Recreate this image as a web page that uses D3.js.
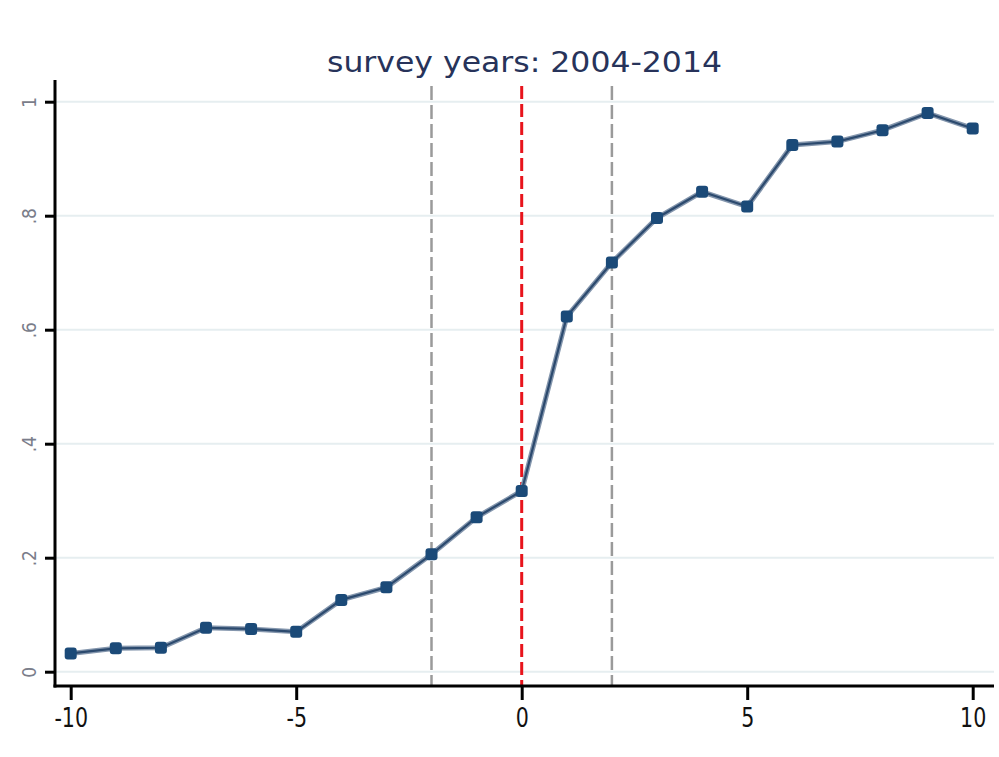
<!DOCTYPE html>
<html>
<head>
<meta charset="utf-8">
<script src="https://cdn.jsdelivr.net/npm/d3@7"></script>
<style>
  html, body { margin: 0; padding: 0; background: #ffffff; }
  svg { display: block; }
</style>
</head>
<body>
<svg id="chart" width="999" height="757"></svg>
<script>
// Event time relative to treatment, and the estimated share at each step
const eventTime = [-10, -9, -8, -7, -6, -5, -4, -3, -2, -1, 0, 1, 2, 3, 4, 5, 6, 7, 8, 9, 10];
const share = [0.032, 0.041, 0.042, 0.077, 0.075, 0.070, 0.126, 0.148, 0.206, 0.271, 0.317,
               0.623, 0.718, 0.796, 0.842, 0.816, 0.924, 0.930, 0.950, 0.980, 0.953];
const xTicks = [-10, -5, 0, 5, 10];
const yTicks = [0, 0.2, 0.4, 0.6, 0.8, 1];
const yTickLabels = ["0", ".2", ".4", ".6", ".8", "1"];
const windowLines = [-2, 2];
const eventLine = 0;
const titleText = "survey years: 2004-2014";

const svg = d3.select("#chart");
const plot = { left: 55, right: 994, top: 86, bottom: 686 };

const x = d3.scaleLinear().domain([-10, 10]).range([70.7, 972.7]);
const y = d3.scaleLinear().domain([0, 1]).range([671.7, 101.7]);

// horizontal grid
svg.append("g")
  .selectAll("line")
  .data(yTicks)
  .join("line")
  .attr("x1", plot.left).attr("x2", plot.right)
  .attr("y1", d => y(d)).attr("y2", d => y(d))
  .attr("stroke", "#e6eef0").attr("stroke-width", 2);

// reference lines: window around the event and the event itself
svg.append("g")
  .selectAll("line")
  .data(windowLines)
  .join("line")
  .attr("x1", d => x(d)).attr("x2", d => x(d))
  .attr("y1", plot.top).attr("y2", plot.bottom)
  .attr("stroke", "#9a9a9a").attr("stroke-width", 2.5)
  .attr("stroke-dasharray", "14,5");

svg.append("line")
  .attr("x1", x(eventLine)).attr("x2", x(eventLine))
  .attr("y1", plot.top).attr("y2", plot.bottom)
  .attr("stroke", "#e8141c").attr("stroke-width", 3)
  .attr("stroke-dasharray", "13,5");

// series line and markers
const pts = eventTime.map((t, i) => [t, share[i]]);
svg.append("path")
  .datum(pts)
  .attr("fill", "none")
  .attr("stroke", "#8496ad")
  .attr("stroke-width", 5)
  .attr("d", d3.line().x(d => x(d[0])).y(d => y(d[1])));
svg.append("path")
  .datum(pts)
  .attr("fill", "none")
  .attr("stroke", "#2c4a6e")
  .attr("stroke-width", 2.2)
  .attr("d", d3.line().x(d => x(d[0])).y(d => y(d[1])));

svg.append("g")
  .selectAll("rect")
  .data(pts)
  .join("rect")
  .attr("x", d => x(d[0]) - 6).attr("y", d => y(d[1]) - 6)
  .attr("width", 12).attr("height", 12)
  .attr("rx", 3)
  .attr("fill", "#1b4a78");

// axes
const condensed = "'DejaVu Sans Condensed', 'Liberation Sans Narrow', 'DejaVu Sans', sans-serif";
const xAxis = d3.axisBottom(x).tickValues(xTicks).tickSize(14).tickFormat(d3.format("d"));
const gx = svg.append("g").attr("transform", `translate(0,${plot.bottom})`).call(xAxis);
gx.select(".domain").remove();
gx.selectAll(".tick line").attr("stroke", "#000").attr("stroke-width", 3);
gx.selectAll(".tick text")
  .attr("fill", "#111")
  .attr("dy", 0)
  .attr("y", 41)
  .attr("transform", "scale(0.88,1)")
  .attr("font-family", condensed)
  .attr("font-size", 26)
  .text(d => d < 0 ? "-" + Math.abs(d) : String(d));

const yAxis = d3.axisLeft(y).tickValues(yTicks).tickSize(10).tickFormat((d, i) => yTickLabels[i]);
const gy = svg.append("g").attr("transform", `translate(${plot.left},0)`).call(yAxis);
gy.select(".domain").remove();
gy.selectAll(".tick line").attr("stroke", "#000").attr("stroke-width", 3);
gy.selectAll(".tick text")
  .attr("x", 0).attr("dy", 0)
  .attr("transform", "translate(-19,0) rotate(-90)")
  .attr("text-anchor", "middle")
  .attr("fill", "#7a7d8a")
  .attr("font-family", condensed)
  .attr("font-size", 19);

// frame lines (left and bottom)
svg.append("line")
  .attr("x1", plot.left).attr("x2", plot.left)
  .attr("y1", 80).attr("y2", plot.bottom + 1.5)
  .attr("stroke", "#000").attr("stroke-width", 3);
svg.append("line")
  .attr("x1", plot.left - 1.5).attr("x2", plot.right)
  .attr("y1", plot.bottom).attr("y2", plot.bottom)
  .attr("stroke", "#000").attr("stroke-width", 3);

// title
svg.append("text")
  .attr("x", 327).attr("y", 72)
  .attr("textLength", 395)
  .attr("lengthAdjust", "spacingAndGlyphs")
  .attr("font-family", "'DejaVu Sans', Verdana, sans-serif")
  .attr("font-size", 28)
  .attr("fill", "#27335a")
  .text(titleText);
</script>
</body>
</html>
